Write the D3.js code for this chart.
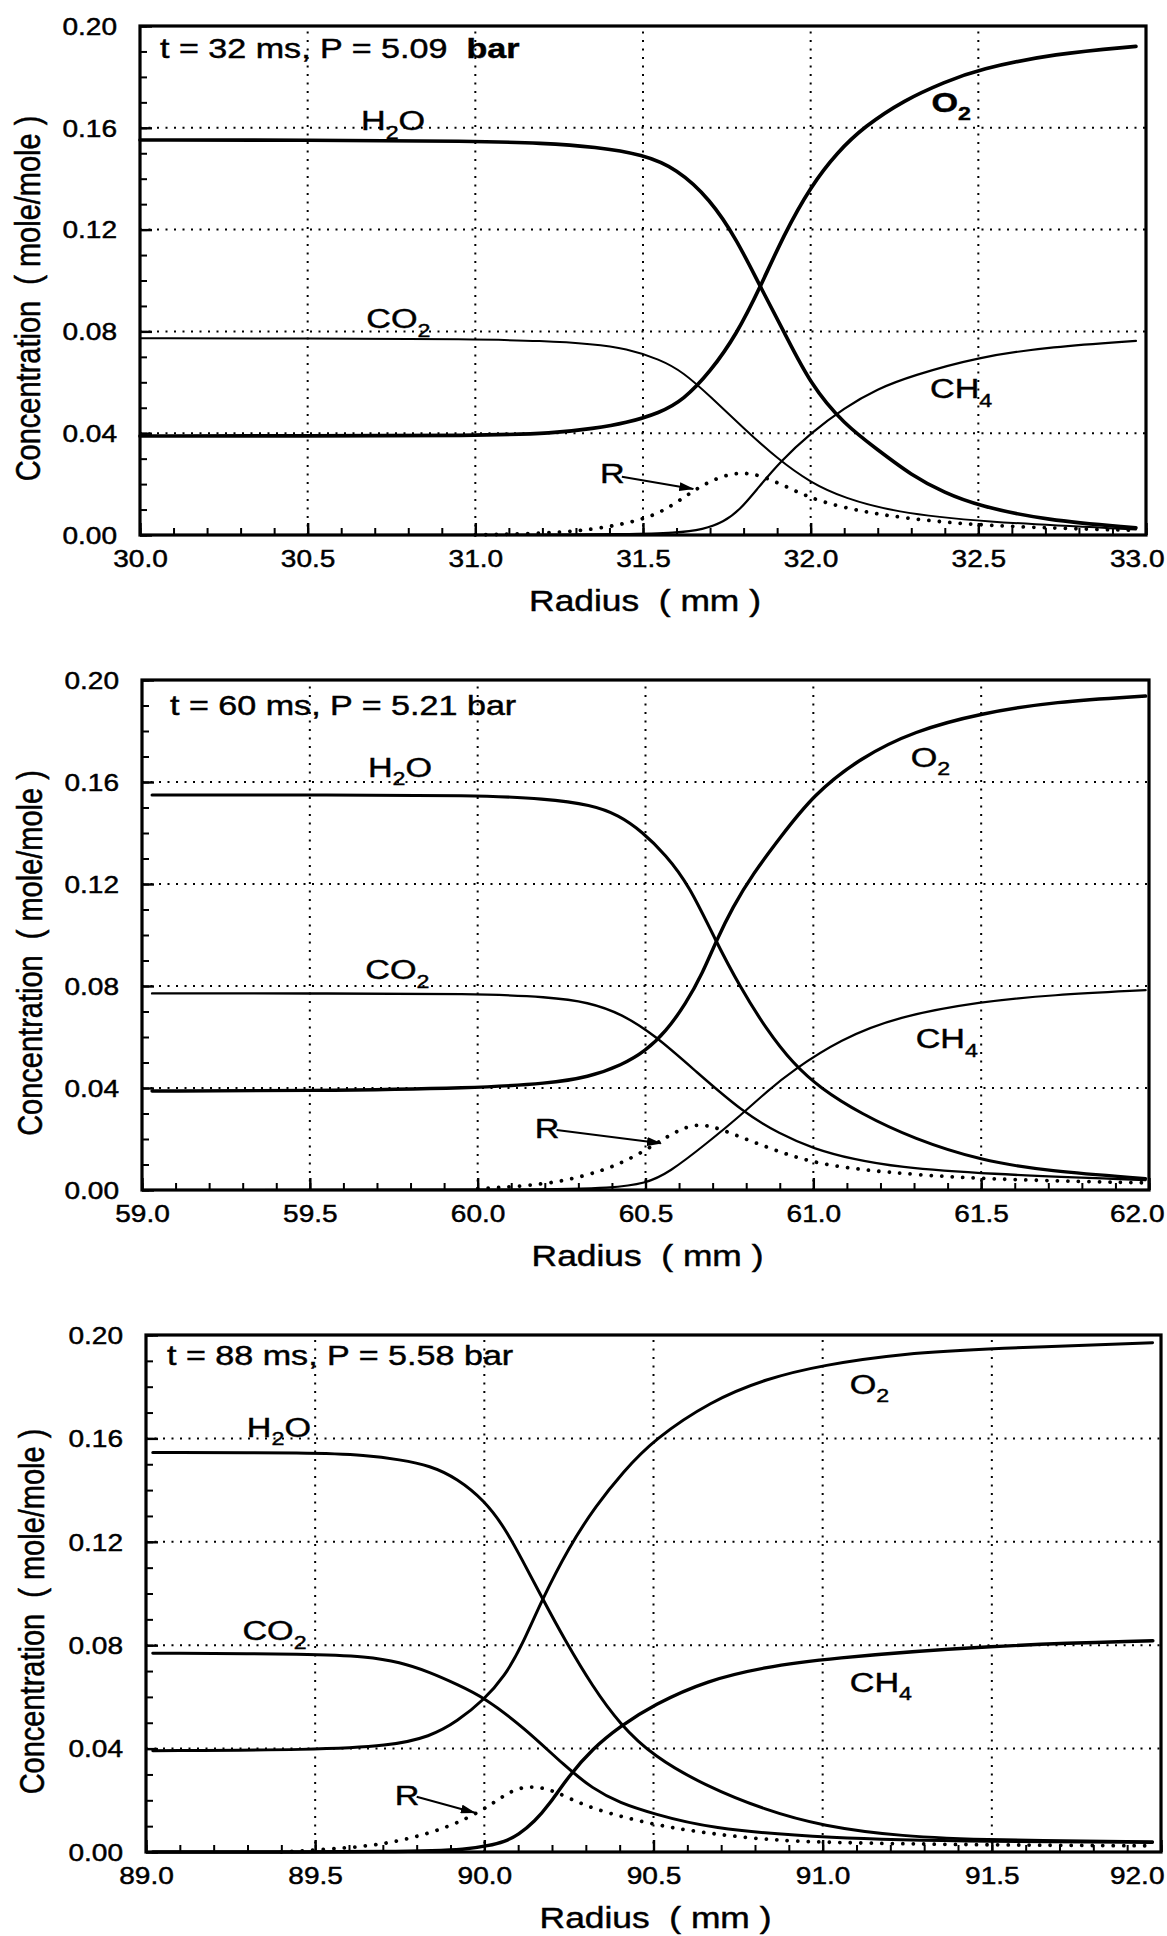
<!DOCTYPE html>
<html>
<head>
<meta charset="utf-8">
<script src="https://cdn.jsdelivr.net/npm/d3@7"></script>
<style>
  html, body { margin: 0; padding: 0; background: #fff; }
  svg { display: block; }
  text { font-family: "Liberation Sans", Arial, Helvetica, sans-serif; fill: #000; stroke: #000; stroke-width: 0.45px; white-space: pre; }
</style>
</head>
<body>
<svg id="chart" width="1167" height="1936"></svg>
<script>
// ---------------- data ----------------
const panelTimes = [32, 60, 88];                 // ms
const panelPressures = ["5.09", "5.21", "5.58"]; // bar
const radiusDomains = [[30, 33], [59, 62], [89, 92]];
const concDomain = [0, 0.2];
const yTickLabels = [0.00, 0.04, 0.08, 0.12, 0.16, 0.20];
const xTickLabels = [
  [30.0, 30.5, 31.0, 31.5, 32.0, 32.5, 33.0],
  [59.0, 59.5, 60.0, 60.5, 61.0, 61.5, 62.0],
  [89.0, 89.5, 90.0, 90.5, 91.0, 91.5, 92.0]
];

// t = 32 ms  [radius mm, mole fraction]
const h2o_32 = [[30.0,0.1552],[30.5,0.1552],[31.0,0.1548],[31.2,0.1540],[31.36,0.1525],[31.5,0.1495],[31.6,0.1440],[31.7,0.1320],[31.78,0.1160],[31.85,0.0975],[31.92,0.0800],[32.0,0.0590],[32.1,0.0435],[32.2,0.0335],[32.3,0.0235],[32.4,0.0165],[32.5,0.0115],[32.7,0.0058],[32.97,0.0028]];
const o2_32  = [[30.0,0.0389],[30.5,0.0389],[31.0,0.0390],[31.24,0.0400],[31.35,0.0418],[31.45,0.0440],[31.55,0.0480],[31.62,0.0530],[31.7,0.0640],[31.78,0.0790],[31.85,0.0975],[31.92,0.1180],[32.0,0.1370],[32.08,0.1505],[32.16,0.1605],[32.28,0.1710],[32.4,0.1780],[32.5,0.1830],[32.73,0.1892],[32.97,0.1920]];
const co2_32 = [[30.0,0.0773],[30.5,0.0773],[31.0,0.0769],[31.2,0.0763],[31.35,0.0750],[31.45,0.0733],[31.55,0.0690],[31.62,0.0640],[31.7,0.0545],[31.8,0.0420],[31.9,0.0300],[32.0,0.0205],[32.1,0.0145],[32.25,0.0090],[32.5,0.0052],[32.97,0.0022]];
const ch4_32 = [[30.0,0.0],[31.2,0.0],[31.45,0.0003],[31.6,0.0008],[31.68,0.0022],[31.74,0.0050],[31.79,0.0100],[31.84,0.0180],[31.91,0.0290],[32.0,0.0400],[32.1,0.0500],[32.2,0.0575],[32.3,0.0625],[32.5,0.0700],[32.72,0.0740],[32.97,0.0763]];
const r_32   = [[31.0,0.0],[31.2,0.0006],[31.35,0.0020],[31.5,0.0058],[31.58,0.0108],[31.65,0.0175],[31.72,0.0225],[31.79,0.0249],[31.86,0.0232],[31.95,0.0175],[32.03,0.0130],[32.15,0.0093],[32.26,0.0070],[32.5,0.0035],[32.97,0.0018]];

// t = 60 ms
const h2o_60 = [[59.03,0.1549],[59.5,0.1549],[60.0,0.1548],[60.2,0.1535],[60.34,0.1510],[60.42,0.1470],[60.49,0.1405],[60.56,0.1315],[60.63,0.1195],[60.71,0.0975],[60.78,0.0800],[60.86,0.0630],[60.94,0.0495],[61.02,0.0400],[61.14,0.0300],[61.3,0.0200],[61.5,0.0115],[61.7,0.0074],[61.99,0.0045]];
const o2_60  = [[59.03,0.0388],[59.5,0.0389],[60.0,0.0400],[60.21,0.0418],[60.33,0.0442],[60.43,0.0490],[60.5,0.0545],[60.56,0.0620],[60.62,0.0730],[60.67,0.0850],[60.71,0.0975],[60.76,0.1110],[60.82,0.1240],[60.9,0.1380],[61.0,0.1550],[61.14,0.1695],[61.3,0.1800],[61.5,0.1870],[61.72,0.1915],[61.99,0.1937]];
const co2_60 = [[59.03,0.0771],[59.5,0.0771],[60.0,0.0770],[60.21,0.0757],[60.33,0.0737],[60.43,0.0690],[60.53,0.0605],[60.65,0.0465],[60.79,0.0305],[60.9,0.0220],[61.0,0.0162],[61.12,0.0120],[61.25,0.0090],[61.5,0.0063],[61.99,0.0039]];
const ch4_60 = [[59.03,0.0],[60.2,0.0],[60.4,0.0008],[60.5,0.0025],[60.57,0.0068],[60.68,0.0180],[60.79,0.0300],[60.86,0.0385],[60.94,0.0470],[61.08,0.0590],[61.25,0.0680],[61.5,0.0739],[61.71,0.0765],[61.99,0.0784]];
const r_60   = [[60.0,0.0005],[60.2,0.0020],[60.33,0.0058],[60.42,0.0100],[60.5,0.0155],[60.57,0.0215],[60.64,0.0260],[60.7,0.0250],[60.76,0.0220],[60.88,0.0158],[60.99,0.0110],[61.12,0.0083],[61.25,0.0066],[61.5,0.0042],[61.99,0.0028]];

// t = 88 ms
const h2o_88 = [[89.02,0.1545],[89.5,0.1545],[89.65,0.1535],[89.75,0.1518],[89.84,0.1495],[89.92,0.1445],[90.0,0.1360],[90.06,0.1255],[90.11,0.1135],[90.17,0.0985],[90.24,0.0815],[90.32,0.0640],[90.4,0.0495],[90.5,0.0370],[90.65,0.0258],[90.83,0.0162],[91.0,0.0100],[91.23,0.0060],[91.5,0.0046],[91.975,0.0040]];
const o2_88  = [[89.02,0.0392],[89.5,0.0395],[89.72,0.0410],[89.84,0.0446],[89.92,0.0505],[90.0,0.0590],[90.06,0.0680],[90.11,0.0795],[90.17,0.0975],[90.25,0.1180],[90.33,0.1340],[90.41,0.1470],[90.5,0.1595],[90.67,0.1745],[90.83,0.1830],[91.0,0.1884],[91.24,0.1929],[91.5,0.1948],[91.975,0.1970]];
const co2_88 = [[89.02,0.0769],[89.5,0.0766],[89.65,0.0756],[89.75,0.0735],[89.84,0.0695],[89.92,0.0648],[90.0,0.0598],[90.12,0.0478],[90.24,0.0330],[90.32,0.0245],[90.4,0.0190],[90.5,0.0148],[90.66,0.0092],[91.0,0.0053],[91.5,0.0040],[91.975,0.0037]];
const ch4_88 = [[89.02,0.0],[89.8,0.0],[89.95,0.0010],[90.01,0.0024],[90.06,0.0040],[90.1,0.0065],[90.15,0.0120],[90.19,0.0180],[90.25,0.0295],[90.32,0.0400],[90.4,0.0485],[90.5,0.0570],[90.66,0.0665],[90.83,0.0715],[91.0,0.0748],[91.5,0.0800],[91.976,0.0817]];
const r_88   = [[89.4,0.0],[89.6,0.0015],[89.72,0.0034],[89.84,0.0072],[89.95,0.0128],[90.03,0.0192],[90.08,0.0238],[90.13,0.0255],[90.18,0.0247],[90.23,0.0222],[90.32,0.0165],[90.5,0.0105],[90.66,0.0072],[90.83,0.0048],[91.0,0.0036],[91.5,0.0027],[91.975,0.0024]];

const seriesByPanel = [
  { H2O: h2o_32, O2: o2_32, CO2: co2_32, CH4: ch4_32, R: r_32 },
  { H2O: h2o_60, O2: o2_60, CO2: co2_60, CH4: ch4_60, R: r_60 },
  { H2O: h2o_88, O2: o2_88, CO2: co2_88, CH4: ch4_88, R: r_88 }
];

// species names: [base, subscript, tail]
const speciesNames = { H2O: ["H", "2", "O"], O2: ["O", "2", ""], CO2: ["CO", "2", ""], CH4: ["CH", "4", ""] };

// ---------------- layout ----------------
const frames = [
  { left: 140, right: 1146, top: 26,   bottom: 535 },
  { left: 142, right: 1149, top: 680,  bottom: 1190 },
  { left: 146, right: 1161, top: 1335, bottom: 1852 }
];
const annotOffsets = [[20, 32], [28, 35], [21, 30]];
const annotGap = ["  ", " ", " "];
const yTitleX = [40, 42, 44];
const lineWidths = [
  { H2O: 3.6, O2: 3.7, CO2: 2.0, CH4: 2.2 },
  { H2O: 3.1, O2: 3.4, CO2: 2.4, CH4: 2.2 },
  { H2O: 3.0, O2: 3.0, CO2: 3.0, CH4: 3.4 }
];
// label anchors in data coordinates (radius, concentration)
const labelSpots = [
  { H2O: [30.659, 0.1591], O2: [32.36, 0.1663], CO2: [30.675, 0.0812], CH4: [32.356, 0.0537] },
  { H2O: [59.673, 0.1620], O2: [61.29, 0.1660], CO2: [59.665, 0.0826], CH4: [61.305, 0.0556] },
  { H2O: [89.298, 0.1607], O2: [91.08, 0.1772], CO2: [89.285, 0.0820], CH4: [91.08, 0.0620] }
];
const boldLabels = [{ O2: true }, {}, {}];
// radical label: text anchor, arrow tail, arrow head
const radicalSpots = [
  { text: [31.372, 0.0203], tail: [31.437, 0.0229], head: [31.650, 0.0181] },
  { text: [60.17, 0.0203],  tail: [60.235, 0.0235], head: [60.546, 0.0183] },
  { text: [89.735, 0.0182], tail: [89.800, 0.0214], head: [89.972, 0.0152] }
];

const SX = 1.22;            // horizontal stretch of lettering
const SX_ANNOT = 1.24;
const FONT_TICK = 23, FONT_TITLE = 29, FONT_LABEL = 28, FONT_SUB = 19, FONT_ANNOT = 27.5;
const PAGE_W = 1167;

const svg = d3.select("#chart");

svg.append("defs").append("marker")
  .attr("id", "arrowhead")
  .attr("markerUnits", "userSpaceOnUse")
  .attr("markerWidth", 15).attr("markerHeight", 9)
  .attr("refX", 14).attr("refY", 4.5)
  .attr("orient", "auto")
  .append("path").attr("d", "M0,0 L15,4.5 L0,9 Z").attr("fill", "#000");

frames.forEach((f, i) => {
  const dom = radiusDomains[i];
  const x = d3.scaleLinear().domain(dom).range([f.left, f.right]);
  const y = d3.scaleLinear().domain(concDomain).range([f.bottom, f.top]);
  const g = svg.append("g");

  // dotted grid at labelled ticks
  const grid = g.append("g").attr("stroke", "#000").attr("stroke-width", 2).attr("stroke-dasharray", "2 6.5");
  grid.selectAll(".gx").data(xTickLabels[i].slice(1, -1)).join("line")
    .attr("x1", d => x(d)).attr("x2", d => x(d))
    .attr("y1", y(concDomain[0])).attr("y2", y(concDomain[1]));
  grid.selectAll(".gy").data(yTickLabels.slice(1, -1)).join("line")
    .attr("y1", d => y(d)).attr("y2", d => y(d))
    .attr("x1", x(dom[0])).attr("x2", x(dom[1]));

  // minor ticks (inward)
  const xMinor = d3.range(0, 31).map(k => dom[0] + k * 0.1);
  const yMinor = d3.range(0, 21).map(k => k * 0.01);
  g.append("g").attr("transform", `translate(0,${f.bottom})`)
    .call(d3.axisBottom(x).tickValues(xMinor).tickSizeInner(-7).tickSizeOuter(0).tickFormat(""))
    .call(a => a.select(".domain").remove())
    .call(a => a.selectAll("line").attr("stroke-width", 2));
  g.append("g").attr("transform", `translate(${f.left},0)`)
    .call(d3.axisLeft(y).tickValues(yMinor).tickSizeInner(-7).tickSizeOuter(0).tickFormat(""))
    .call(a => a.select(".domain").remove())
    .call(a => a.selectAll("line").attr("stroke-width", 2));

  // major ticks with labels
  const xAxisG = g.append("g").attr("transform", `translate(0,${f.bottom})`)
    .call(d3.axisBottom(x).tickValues(xTickLabels[i]).tickSizeInner(-12).tickSizeOuter(0).tickFormat(d3.format(".1f")))
    .call(a => a.select(".domain").remove())
    .call(a => a.selectAll("line").attr("stroke-width", 2.4));
  xAxisG.selectAll("text")
    .attr("y", null).attr("dy", null)
    .attr("font-size", FONT_TICK)
    .attr("text-anchor", "middle")
    .each(function (d) {
      // keep the outermost label inside the page
      const w = this.getComputedTextLength() * SX;
      const over = x(d) + w / 2 - (PAGE_W - 3);
      const shift = over > 0 ? -over : 0;
      d3.select(this).attr("transform", `translate(${shift},32) scale(${SX},1)`);
    });
  g.append("g").attr("transform", `translate(${f.left},0)`)
    .call(d3.axisLeft(y).tickValues(yTickLabels).tickSizeInner(-12).tickSizeOuter(0).tickFormat(d3.format(".2f")))
    .call(a => a.select(".domain").remove())
    .call(a => a.selectAll("line").attr("stroke-width", 2.4))
    .call(a => a.selectAll("text")
      .attr("x", null).attr("dy", null)
      .attr("font-size", FONT_TICK)
      .attr("text-anchor", "end")
      .attr("transform", `translate(-23,8.2) scale(${SX},1)`));

  // frame
  g.append("rect")
    .attr("x", f.left).attr("y", f.top)
    .attr("width", f.right - f.left).attr("height", f.bottom - f.top)
    .attr("fill", "none").attr("stroke", "#000").attr("stroke-width", 3.2);

  // concentration profiles
  const line = d3.line().x(d => x(d[0])).y(d => y(d[1])).curve(d3.curveBasis);
  const series = seriesByPanel[i];
  ["CO2", "CH4", "H2O", "O2"].forEach(k => {
    g.append("path").datum(series[k])
      .attr("d", line)
      .attr("fill", "none").attr("stroke", "#000")
      .attr("stroke-width", lineWidths[i][k])
      .attr("stroke-linejoin", "round").attr("stroke-linecap", "round");
  });
  g.append("path").datum(series.R)
    .attr("d", line)
    .attr("fill", "none").attr("stroke", "#000")
    .attr("stroke-width", 3.8).attr("stroke-linecap", "round")
    .attr("stroke-dasharray", "0.01 10.5");

  // species labels
  Object.keys(speciesNames).forEach(k => {
    const [base, sub, tail] = speciesNames[k];
    const [r, c] = labelSpots[i][k];
    const t = g.append("text")
      .attr("transform", `translate(${x(r)},${y(c)}) scale(${SX},1)`)
      .attr("font-size", FONT_LABEL)
      .attr("font-weight", boldLabels[i][k] ? "bold" : "normal");
    t.append("tspan").text(base);
    t.append("tspan").attr("font-size", FONT_SUB).attr("dy", 8.5).text(sub);
    if (tail) t.append("tspan").attr("dy", -8.5).text(tail);
  });

  // radical label with arrow
  const rs = radicalSpots[i];
  g.append("text")
    .attr("transform", `translate(${x(rs.text[0])},${y(rs.text[1])}) scale(${SX},1)`)
    .attr("font-size", FONT_LABEL).text("R");
  g.append("line")
    .attr("x1", x(rs.tail[0])).attr("y1", y(rs.tail[1]))
    .attr("x2", x(rs.head[0])).attr("y2", y(rs.head[1]))
    .attr("stroke", "#000").attr("stroke-width", 2)
    .attr("marker-end", "url(#arrowhead)");

  // time / pressure annotation
  const an = g.append("text")
    .attr("transform", `translate(${f.left + annotOffsets[i][0]},${f.top + annotOffsets[i][1]}) scale(${SX_ANNOT},1)`)
    .attr("font-size", FONT_ANNOT);
  an.append("tspan").text(`t = ${panelTimes[i]} ms, P = ${panelPressures[i]}${annotGap[i]}`);
  an.append("tspan").attr("font-weight", i === 0 ? "bold" : "normal").text("bar");

  // axis titles
  g.append("text")
    .attr("transform", `translate(${(f.left + f.right) / 2 + 2},${f.bottom + 76}) scale(${SX},1)`)
    .attr("text-anchor", "middle").attr("font-size", FONT_TITLE)
    .text("Radius  ( mm )");
  g.append("text")
    .attr("transform", `translate(${yTitleX[i]},${(f.top + f.bottom) / 2 + 18}) scale(${SX},1) rotate(-90)`)
    .attr("text-anchor", "middle").attr("font-size", FONT_TITLE)
    .text("Concentration  ( mole/mole )");
});
</script>
</body>
</html>
